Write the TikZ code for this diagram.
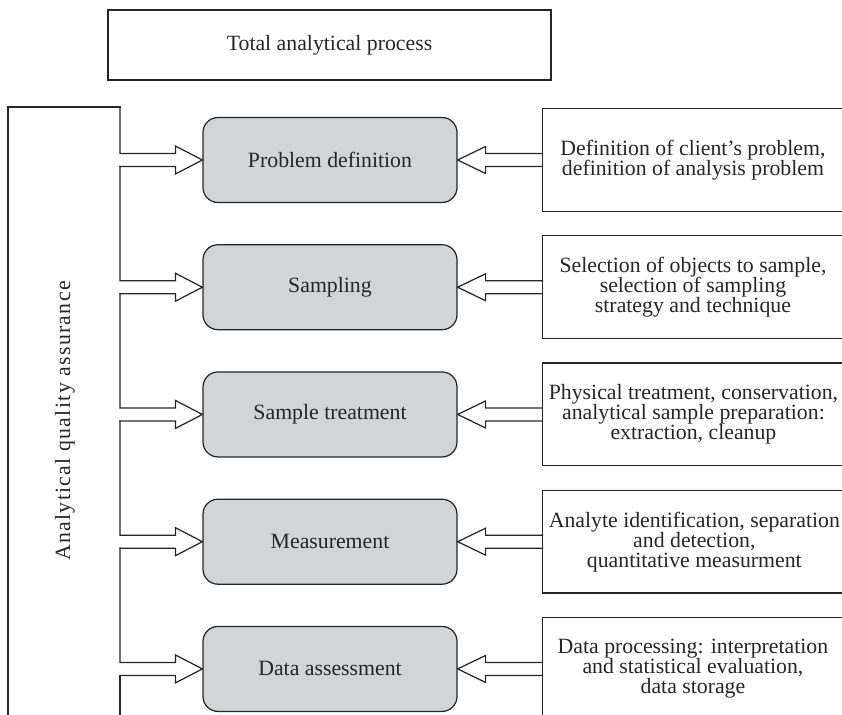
\documentclass[tikz,border=0pt]{standalone}
\usepackage{fontspec}
\setmainfont{Liberation Serif}
\usepackage{tikz}
\usetikzlibrary{calc,positioning}
\definecolor{tinta}{HTML}{262626}
\definecolor{gris}{HTML}{D3D4D6}

\begin{document}
\begin{tikzpicture}[scale=1.0,line cap=rect,
    every node/.style={font=\fontsize{12.4}{11.4}\selectfont,text=tinta},
    marco/.style={draw=tinta,line width=0.7pt},
    etapa/.style={marco,fill=gris,rounded corners=0.3cm,
                  minimum width=5.08cm,minimum height=1.7cm},
    tarea/.style={align=center,minimum width=6cm,minimum height=2.04cm}]
  \useasboundingbox (0,0) rectangle (16.84,-14.3);
  % titulo
  \node[marco,minimum width=8.86cm,minimum height=1.4cm] (total) at (6.59,-0.9)
        {Total analytical process};
  % etapas
  \node[etapa] (pd) at (6.6,-3.2) {Problem definition};
  \node[etapa,below=0.82cm of pd] (sa) {Sampling};
  \node[etapa,below=0.82cm of sa] (st) {Sample treatment};
  \node[etapa,below=0.82cm of st] (me) {Measurement};
  \node[etapa,below=0.82cm of me] (da) {Data assessment};
  % tareas
  \node[tarea,right=1.7cm of pd] (pdt)
        {Definition of client's problem,\\definition of analysis problem};
  \node[tarea,right=1.7cm of sa] (sat)
        {Selection of objects to sample,\\selection of sampling\\strategy and technique};
  \node[tarea,right=1.7cm of st] (stt)
        {Physical treatment, conservation,\\analytical sample preparation:\\extraction, cleanup};
  \node[tarea,right=1.7cm of me] (met)
        {Analyte identification, separation\\and detection,\\quantitative measurment};
  \node[tarea,right=1.7cm of da] (dat)
        {Data processing: interpretation\\and statistical evaluation,\\data storage};
  \foreach \t in {pdt,sat,stt,met}{
    \draw[marco] (\t.north east) -- (\t.north west) -- (\t.south west) -- (\t.south east);
  }
  \draw[marco] (dat.north east) -- (dat.north west) -- (dat.south west);
  % flechas de la derecha
  \foreach \e/\t in {pd/pdt,sa/sat,st/stt,me/met,da/dat}{
    \draw[marco] ($(\t.west)+(0,0.13)$) -- ($(\e.east)+(0.56,0.13)$)
      -- ($(\e.east)+(0.56,0.27)$) -- (\e.east) -- ($(\e.east)+(0.56,-0.27)$)
      -- ($(\e.east)+(0.56,-0.13)$) -- ($(\t.west)+(0,-0.13)$);
  }
  % aseguramiento de calidad
  \coordinate (sal) at (2.4,-2.14);
  \draw[marco] (0.16,-14.3) -- (0.16,-2.14) -- (sal);
  \foreach \e in {pd,sa,st,me,da}{
    \draw[marco] (sal) -- ($(\e.west -| sal)+(0,0.13)$) -- ($(\e.west)+(-0.54,0.13)$)
      -- ($(\e.west)+(-0.54,0.28)$) -- (\e.west) -- ($(\e.west)+(-0.54,-0.28)$)
      -- ($(\e.west)+(-0.54,-0.13)$) -- ($(\e.west -| sal)+(0,-0.13)$);
    \coordinate (sal) at ($(\e.west -| sal)+(0,-0.13)$);
  }
  \draw[marco] (sal) -- (sal |- 0,-14.3);
  \node[rotate=90] (aqa) at (1.3,-8.42)
        {\addfontfeature{LetterSpace=6}Analytical quality assurance};
\end{tikzpicture}
\end{document}
